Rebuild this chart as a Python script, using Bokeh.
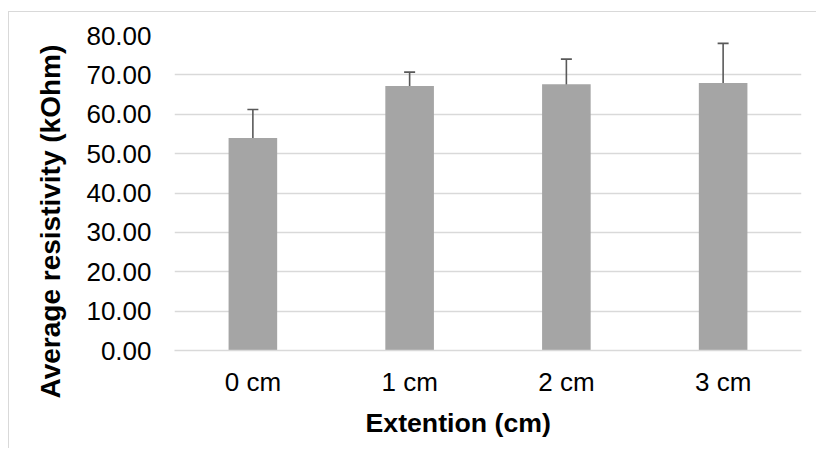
from bokeh.plotting import figure
from bokeh.models import (ColumnDataSource, FactorRange, Range1d, Whisker, TeeHead,
                          Title, NumeralTickFormatter, SingleIntervalTicker)
from bokeh.embed import file_html
from bokeh.resources import INLINE

categories = ["0 cm", "1 cm", "2 cm", "3 cm"]
means = [54.0, 67.2, 67.65, 67.95]
errors = [7.2, 3.5, 6.35, 10.05]

x_title = "Extention (cm)"
y_title = "Average resistivity (kOhm)"

FONT = "Liberation Sans"
GRID = "#d9d9d9"

src = ColumnDataSource(dict(
    cat=categories, mean=means,
    upper=[m + e for m, e in zip(means, errors)],
    lower=[m - e for m, e in zip(means, errors)],
))

p = figure(width=808, height=437, output_backend="svg", toolbar_location=None,
           x_range=FactorRange(factors=categories, range_padding=0),
           y_range=Range1d(0, 80),
           min_border_left=165, min_border_right=16, min_border_top=23, min_border_bottom=99,
           styles={"border-top": "1px solid #d9d9d9", "border-left": "1px solid #d9d9d9",
                   "margin-left": "8px", "margin-top": "11px"})
p.outline_line_color = None
p.background_fill_color = "white"
p.border_fill_color = "white"

p.vbar(x="cat", top="mean", width=0.31, source=src, fill_color="#a5a5a5", line_color=None)

w = Whisker(base="cat", upper="upper", lower="lower", source=src,
            line_color="#595959", line_width=1.6,
            upper_head=TeeHead(size=11, line_color="#595959", line_width=1.6),
            lower_head=TeeHead(size=11, line_color="#595959", line_width=1.6))
p.add_layout(w)

p.ygrid.ticker = SingleIntervalTicker(interval=10)
p.yaxis.ticker = SingleIntervalTicker(interval=10)
p.ygrid.grid_line_color = GRID
p.ygrid.grid_line_width = 1.3
p.xgrid.grid_line_color = None

p.yaxis.formatter = NumeralTickFormatter(format="0.00")
p.yaxis.axis_line_color = None
p.yaxis.major_label_standoff = 23
p.xaxis.axis_line_color = GRID
p.xaxis.axis_line_width = 1.3
p.xaxis.major_label_standoff = 16
for ax in (p.xaxis[0], p.yaxis[0]):
    ax.major_tick_line_color = None
    ax.minor_tick_line_color = None
    ax.major_tick_out = 0
    ax.major_tick_in = 0
    ax.minor_tick_out = 0
    ax.major_label_text_font = FONT
    ax.major_label_text_font_size = "26px"
    ax.major_label_text_color = "#000000"

p.add_layout(Title(text=x_title, align="left", offset=191, vertical_align="top",
                   standoff=16, text_font=FONT, text_font_size="26.7px",
                   text_font_style="bold", text_color="#000000"), "below")

p.add_layout(Title(text=y_title, align="left", offset=-48, vertical_align="bottom",
                   standoff=36, text_font=FONT, text_font_size="28px",
                   text_font_style="bold", text_color="#000000"), "left")

open("out.html", "w").write(file_html(p, INLINE))
